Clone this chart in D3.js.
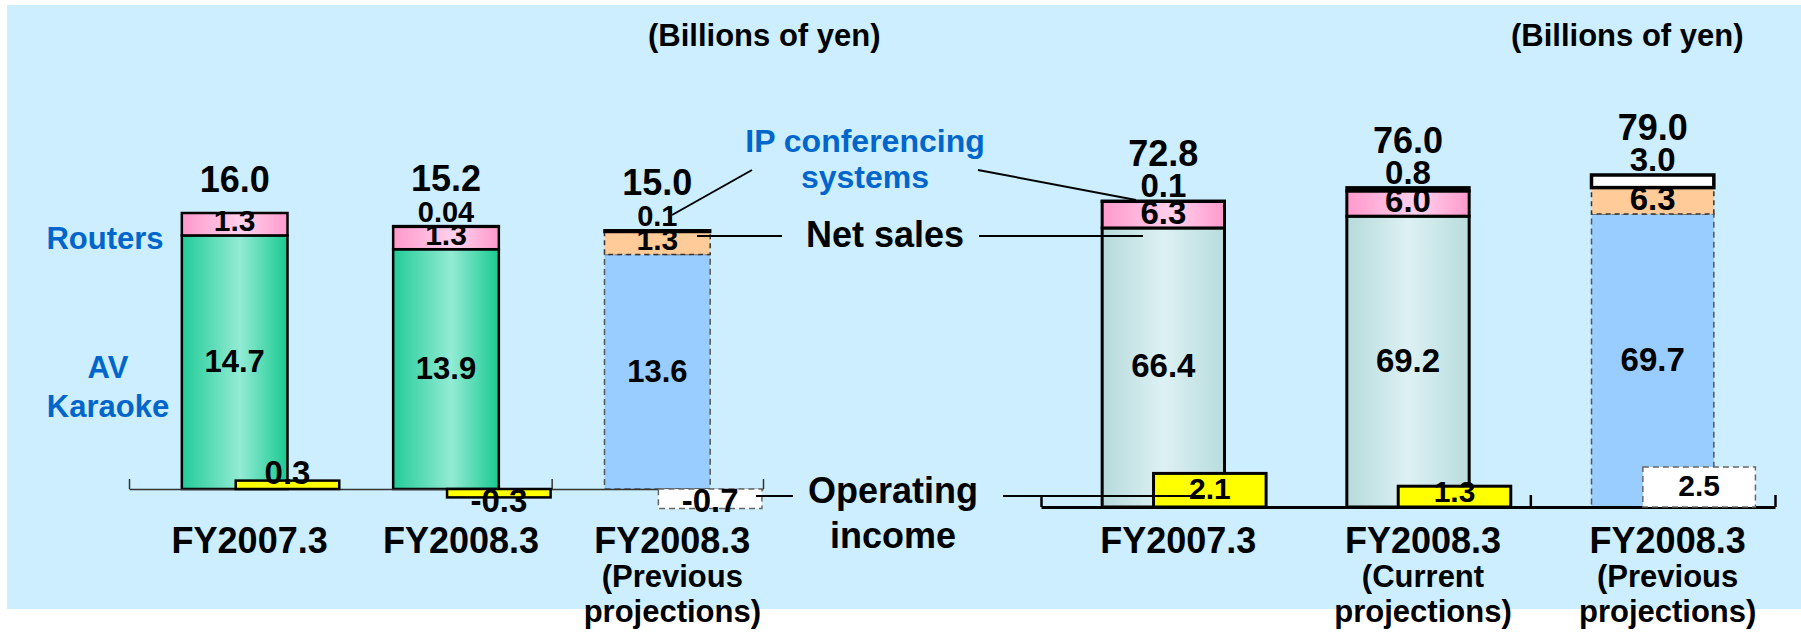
<!DOCTYPE html>
<html>
<head>
<meta charset="utf-8">
<script src="https://cdn.jsdelivr.net/npm/d3@7/dist/d3.min.js"></script>
<style>
  body { margin: 0; background: #ffffff; }
  svg text { font-family: "Liberation Sans", Arial, Helvetica, sans-serif; font-weight: bold; }
</style>
</head>
<body>
<div id="chartArea"></div>
<script>
// ---- data (billions of yen) ----

// left panel
var leftCategories = [["FY2007.3"], ["FY2008.3"], ["FY2008.3", "(Previous", "projections)"]];
var leftAV = [14.7, 13.9, 13.6];
var leftRouters = [1.3, 1.3, 1.3];
var leftIP = [0, 0.04, 0.1];
var leftOpIncome = [0.3, -0.3, -0.7];

// right panel
var rightCategories = [["FY2007.3"], ["FY2008.3", "(Current", "projections)"], ["FY2008.3", "(Previous", "projections)"]];
var rightAV = [66.4, 69.2, 69.7];
var rightRouters = [6.3, 6.0, 6.3];
var rightIP = [0.1, 0.8, 3.0];
var rightOpIncome = [2.1, 1.3, 2.5];

var width = 1801, height = 632;

var svg = d3.select("#chartArea")
    .append("svg")
    .attr("width", width)
    .attr("height", height);

// background panel
svg.append("rect")
    .attr("x", 7).attr("y", 5)
    .attr("width", width - 7).attr("height", 604)
    .attr("fill", "#cceeff");

// gradients for the "real" bars
var defs = svg.append("defs");
function addGradient(id, stops) {
    var g = defs.append("linearGradient").attr("id", id)
        .attr("x1", "0%").attr("x2", "100%").attr("y1", "0%").attr("y2", "0%");
    stops.forEach(function (s) {
        g.append("stop").attr("offset", s[0]).attr("stop-color", s[1]);
    });
}
addGradient("gradGreen", [["0%", "#22cc98"], ["55%", "#93ebd4"], ["100%", "#18ca90"]]);
addGradient("gradPink", [["0%", "#ff99cc"], ["58%", "#ffd2ec"], ["100%", "#ff99cc"]]);
addGradient("gradTeal", [["0%", "#b6dada"], ["50%", "#ddf1f4"], ["100%", "#b8dcdc"]]);

// layout for each panel (positions / styling only)
var panels = [
    { id: "left", cats: leftCategories, av: leftAV, routers: leftRouters, ip: leftIP, op: leftOpIncome,
      x0: 129, x1: 763, axisY: 489, topY: 213, opPx: 28, opOffset: 0.25, opWidth: 0.49,
      barStroke: 2.5, axisStroke: 1.5, axisColor: "#333", tick: 10,
      avFill: "url(#gradGreen)", avFont: 31, rtFont: 30, ipFont: 29, opFont: 33 },
    { id: "right", cats: rightCategories, av: rightAV, routers: rightRouters, ip: rightIP, op: rightOpIncome,
      x0: 1041, x1: 1775, axisY: 507, topY: 175, opPx: 16, opOffset: 0.19, opWidth: 0.46,
      barStroke: 3, axisStroke: 3, axisColor: "#000", tick: 12,
      avFill: "url(#gradTeal)", avFont: 33, rtFont: 33, ipFont: 33, opFont: 30 }
];

function fmtSmall(v) {
    return v < 0.1 ? d3.format(".2f")(v) : d3.format(".1f")(v);
}

function segStyle(key, prev, hPx, p) {
    if (key == "av") {
        return prev ? { fill: "#99ccff", stroke: "#555", w: 1.5, dash: "6,4" }
                    : { fill: p.avFill, stroke: "#000", w: p.barStroke, dash: null };
    }
    if (key == "routers") {
        return prev ? { fill: "#ffcc99", stroke: "#333", w: 1.5, dash: "5,4" }
                    : { fill: "url(#gradPink)", stroke: "#000", w: p.barStroke, dash: null };
    }
    // IP conferencing: thin ones show as a black cap, tall one as a white box
    return hPx > 6 ? { fill: "#fff", stroke: "#000", w: 3.5, dash: null }
                   : { fill: "#000", stroke: "#000", w: p.barStroke, dash: null };
}

function drawPanel(p) {
    var g = svg.append("g").attr("id", p.id);

    var rows = p.cats.map(function (c, i) {
        return { i: i, av: p.av[i], routers: p.routers[i], ip: p.ip[i], op: p.op[i],
                 prev: c.join(" ").indexOf("(Previous") >= 0 };
    });

    var x = d3.scaleBand().domain(d3.range(rows.length)).range([p.x0, p.x1]);
    var barW = x.bandwidth() * 0.5;
    var y = d3.scaleLinear()
        .domain([0, d3.max(rows, function (r) { return r.av + r.routers + r.ip; })])
        .range([p.axisY, p.topY]);
    var yOp = d3.scaleLinear().domain([0, 1]).range([0, p.opPx]);

    var series = d3.stack().keys(["av", "routers", "ip"])(rows);

    // stacked net sales bars
    series.forEach(function (s) {
        g.append("g").selectAll("rect")
            .data(s.filter(function (d) { return d[1] - d[0] > 0; }))
            .enter()
            .append("rect")
            .each(function (d) {
                var hPx = y(d[0]) - y(d[1]);
                var st = segStyle(s.key, d.data.prev, hPx, p);
                d3.select(this)
                    .attr("x", x(d.data.i) + (x.bandwidth() - barW) / 2)
                    .attr("y", y(d[1]))
                    .attr("width", barW)
                    .attr("height", hPx)
                    .attr("fill", st.fill)
                    .attr("stroke", st.stroke)
                    .attr("stroke-width", st.w)
                    .attr("stroke-dasharray", st.dash);
            });
    });

    // axis with ticks at the group boundaries
    var xi = d3.scaleLinear().domain([0, rows.length]).range([p.x0, p.x1]);
    var axis = g.append("g")
        .attr("transform", "translate(0," + p.axisY + ")")
        .call(d3.axisBottom(xi).tickValues([0, rows.length - 1, rows.length])
            .tickSizeInner(-p.tick).tickSizeOuter(0).tickFormat(""));
    axis.select(".domain").attr("stroke", p.axisColor).attr("stroke-width", p.axisStroke);
    axis.selectAll(".tick line").attr("stroke", p.axisColor).attr("stroke-width", p.axisStroke == 3 ? 2.5 : 1.5);

    // operating income bars
    var opX = function (r) { return x(r.i) + x.bandwidth() / 2 + x.step() * p.opOffset; };
    var opW = x.step() * p.opWidth;
    g.append("g").selectAll("rect")
        .data(rows)
        .enter()
        .append("rect")
        .attr("x", function (r) { return opX(r) - opW / 2; })
        .attr("y", function (r) { return r.op >= 0 ? p.axisY - yOp(r.op) : p.axisY; })
        .attr("width", opW)
        .attr("height", function (r) { return yOp(Math.abs(r.op)); })
        .attr("fill", function (r) { return r.prev ? "#ffffff" : "#ffff00"; })
        .attr("stroke", function (r) { return r.prev ? "#666" : "#000"; })
        .attr("stroke-width", function (r) { return r.prev ? 1.5 : p.barStroke; })
        .attr("stroke-dasharray", function (r) { return r.prev ? "6,4" : null; });

    // value labels
    var labels = g.append("g").attr("text-anchor", "middle").attr("fill", "#000");
    rows.forEach(function (r) {
        var cx = x(r.i) + x.bandwidth() / 2;
        var top = y(r.av + r.routers + r.ip);
        labels.append("text").attr("x", cx).attr("y", (y(0) + y(r.av)) / 2 + 10)
            .attr("font-size", p.avFont).text(d3.format(".1f")(r.av));
        labels.append("text").attr("x", cx).attr("y", y(r.av) - 4)
            .attr("font-size", p.rtFont).text(d3.format(".1f")(r.routers));
        var totalY = top - 21;
        if (r.ip > 0) {
            labels.append("text").attr("x", cx).attr("y", top - 4)
                .attr("font-size", p.ipFont).text(fmtSmall(r.ip));
            totalY = top - 35;
        }
        labels.append("text").attr("x", cx).attr("y", totalY)
            .attr("font-size", 36).text(d3.format(".1f")(r.av + r.routers + r.ip));

        // operating income label
        var h = yOp(Math.abs(r.op));
        var ly;
        if (r.op >= 0) {
            ly = Math.min(p.axisY - h / 2 + 9, p.axisY - 5);
        } else {
            ly = Math.max(p.axisY + h / 2 + 9, p.axisY + 23);
        }
        labels.append("text").attr("x", opX(r)).attr("y", ly)
            .attr("font-size", p.opFont).text(d3.format(".1f")(r.op).replace("−", "-"));

        // category labels
        var cat = labels.append("text").attr("x", cx + 15).attr("y", 553);
        p.cats[r.i].forEach(function (line, k) {
            cat.append("tspan").attr("x", cx + 15)
                .attr("y", 553 + (k == 0 ? 0 : 34 + (k - 1) * 35))
                .attr("font-size", k == 0 ? 36 : 31)
                .text(line);
        });
    });
}

panels.forEach(drawPanel);

// ---- annotations ----
var notes = [
    { t: "(Billions of yen)", x: 648, y: 46, size: 31, color: "#000", anchor: "start" },
    { t: "(Billions of yen)", x: 1511, y: 46, size: 31, color: "#000", anchor: "start" },
    { t: "Routers", x: 105, y: 249, size: 31, color: "#0066cc", anchor: "middle" },
    { t: "AV", x: 108, y: 378, size: 31, color: "#0066cc", anchor: "middle" },
    { t: "Karaoke", x: 108, y: 417, size: 31, color: "#0066cc", anchor: "middle" },
    { t: "IP conferencing", x: 865, y: 152, size: 32, color: "#0066cc", anchor: "middle" },
    { t: "systems", x: 865, y: 188, size: 32, color: "#0066cc", anchor: "middle" },
    { t: "Net sales", x: 885, y: 247, size: 36, color: "#000", anchor: "middle" },
    { t: "Operating", x: 893, y: 503, size: 36, color: "#000", anchor: "middle" },
    { t: "income", x: 893, y: 548, size: 36, color: "#000", anchor: "middle" }
];
svg.append("g").selectAll("text")
    .data(notes)
    .enter()
    .append("text")
    .attr("x", function (d) { return d.x; })
    .attr("y", function (d) { return d.y; })
    .attr("font-size", function (d) { return d.size; })
    .attr("fill", function (d) { return d.color; })
    .attr("text-anchor", function (d) { return d.anchor; })
    .text(function (d) { return d.t; });

// leader lines from the annotation texts
var leaders = [
    [752, 170, 672, 215], [978, 170, 1136, 200],
    [697, 236, 782, 236], [979, 236, 1143, 236],
    [756, 496, 793, 496], [1003, 496, 1205, 496]
];
svg.append("g").selectAll("line")
    .data(leaders)
    .enter()
    .append("line")
    .attr("x1", function (d) { return d[0]; })
    .attr("y1", function (d) { return d[1]; })
    .attr("x2", function (d) { return d[2]; })
    .attr("y2", function (d) { return d[3]; })
    .attr("stroke", "#000")
    .attr("stroke-width", 2);
</script>
</body>
</html>
